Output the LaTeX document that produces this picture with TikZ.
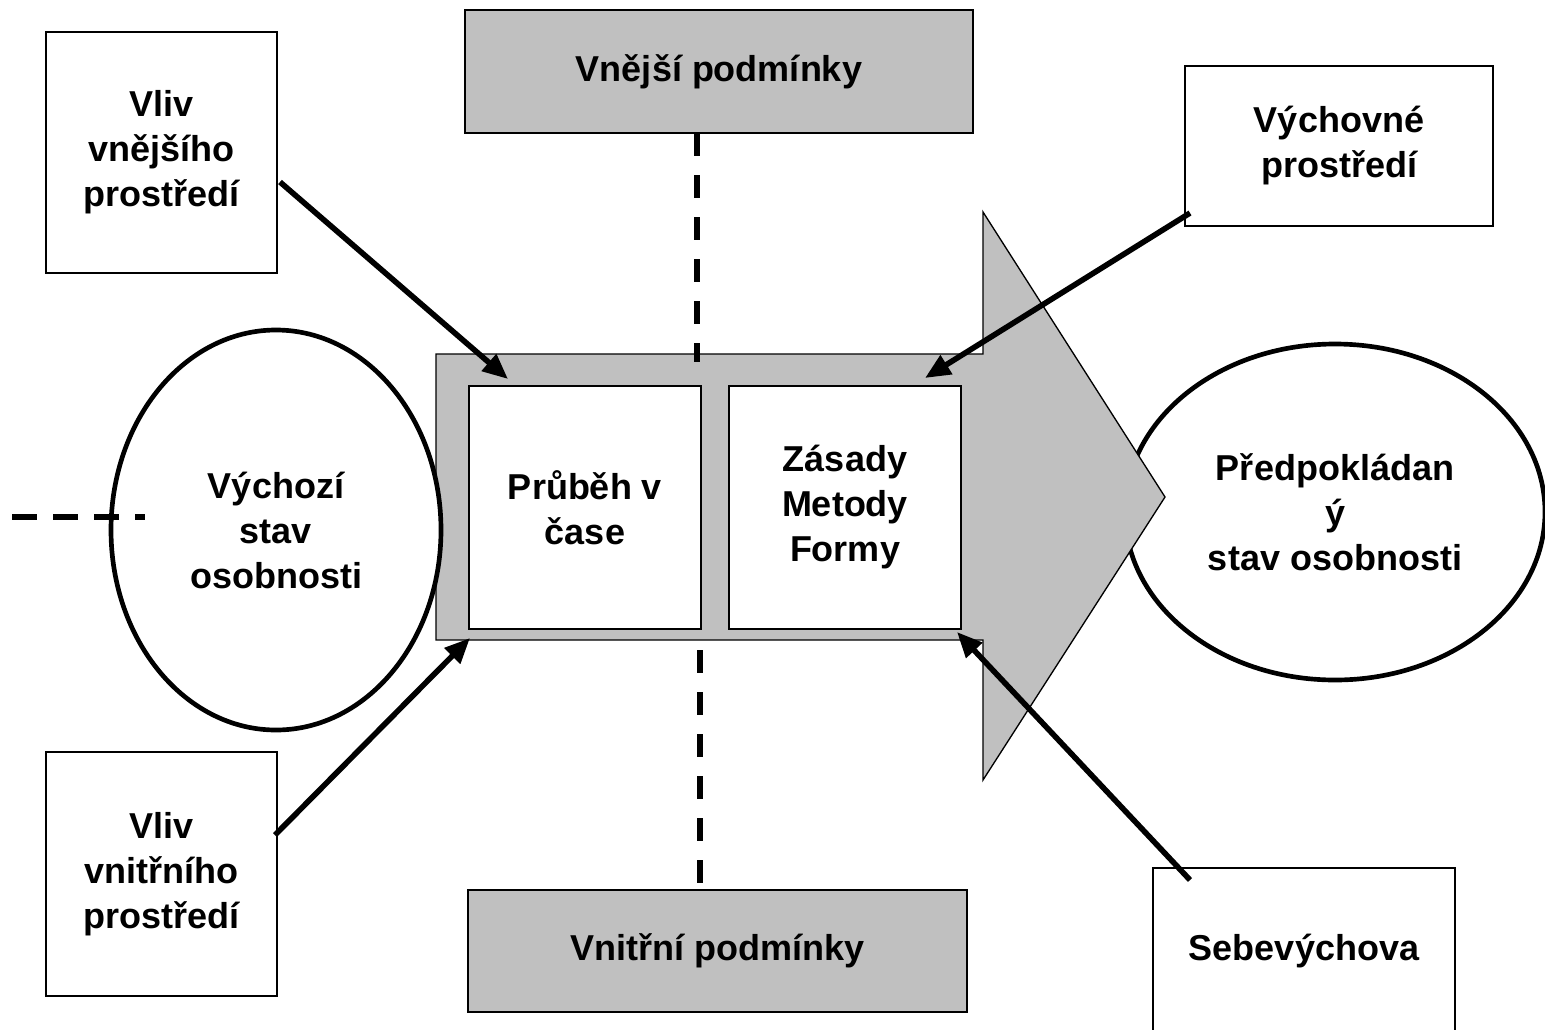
\documentclass[tikz,border=0pt]{standalone}
\usepackage{fontspec}
\setmainfont{Liberation Sans}
\usetikzlibrary{arrows.meta,shapes.geometric}
\definecolor{silv}{RGB}{192,192,192}
\newcommand\diagfont{\fontsize{27pt}{33.75pt}\selectfont\bfseries}
\begin{document}
\begin{tikzpicture}[x=0.75pt,y=-0.75pt,
  box/.style={draw, line width=1.3pt, fill=white, align=center, inner sep=0pt, font=\diagfont},
  gbox/.style={box, fill=silv, line width=1.8pt},
  oval/.style={draw, ellipse, line width=3.5pt, fill=white, inner sep=0pt, align=center, font=\diagfont},
  txt/.style={align=center, inner sep=0pt, font=\diagfont},
  arr/.style={line width=4.2pt, -{Triangle[length=19pt,width=16pt]}},
  dsh/.style={line width=4.8pt, dash pattern=on 17.25pt off 14.25pt},
  bigarrow/.style={fill=silv, draw, line width=1pt}
]
\useasboundingbox (0,0) rectangle (1545,1029);
\fill[white] (0,0) rectangle (1545,1029);

% right ellipse (under the arrow head)
\node[oval, minimum width=315pt, minimum height=252pt] (pred) at (1335,512)
  {Předpokládan\\ý\\stav osobnosti};

% big arrow
\path[bigarrow] (436,354) -- (983,354) -- (983,212) -- (1165,497) -- (983,780)
  -- (983,640) -- (436,640) -- cycle;

% inner boxes
\node[box, minimum width=174pt, minimum height=182.25pt] (prub) at (585,507.5) {Průběh v\\čase};
\node[box, minimum width=174pt, minimum height=182.25pt] (zas) at (845,507.5) {Zásady\\Metody\\Formy};

% left ellipse
\node[oval, minimum width=247.5pt, minimum height=300pt] (vych0) at (276,530)
  {Výchozí\\stav\\osobnosti};

% outer boxes
\node[box, minimum width=173.25pt, minimum height=180.75pt] (vvne) at (161.5,152.5) {Vliv\\vnějšího\\prostředí};
\node[gbox, minimum width=381pt, minimum height=92.25pt] (vpod) at (719,71.5) {Vnější podmínky};
\node[box, minimum width=231pt, minimum height=120pt] (vychp) at (1339,146) {Výchovné\\prostředí};
\node[box, minimum width=173.25pt, minimum height=183pt] (vvni) at (161.5,874) {Vliv\\vnitřního\\prostředí};
\node[gbox, minimum width=374.25pt, minimum height=91.5pt] (vipod) at (717.5,951) {Vnitřní podmínky};

% Sebevychova box (cut off at bottom)
\coordinate (sbl) at (1153,1040);
\coordinate (stl) at (1153,868);
\coordinate (str) at (1455,868);
\coordinate (sbr) at (1455,1040);
\draw[line width=1.3pt] (sbl) -- (stl) -- (str) -- (sbr);
\node[txt] (seb) at (1304,951) {Sebevýchova};

% dashed lines
\coordinate (dtop) at (697,362);
\coordinate (dtopS) at (697,133);
\coordinate (dbot) at (700,650);
\coordinate (dbotE) at (700,885);
\coordinate (dl0) at (12,517);
\coordinate (dl1) at (145,517);
\draw[dsh] (dtopS) -- (dtop);
\draw[dsh] (dbot) -- (dbotE);
\draw[line width=4.8pt, dash pattern=on 18.75pt off 12pt] (dl0) -- (dl1);

% arrows
\coordinate (a1s) at (280,182);
\coordinate (a1e) at (508,379);
\coordinate (a2s) at (1190,213);
\coordinate (a2e) at (925,378);
\coordinate (a3s) at (275,835);
\coordinate (a3e) at (470,638);
\coordinate (a4s) at (1190,880);
\coordinate (a4e) at (957,632);
\draw[arr] (a1s) -- (a1e);
\draw[arr] (a2s) -- (a2e);
\draw[arr] (a3s) -- (a3e);
\draw[arr] (a4s) -- (a4e);
\end{tikzpicture}
\end{document}
